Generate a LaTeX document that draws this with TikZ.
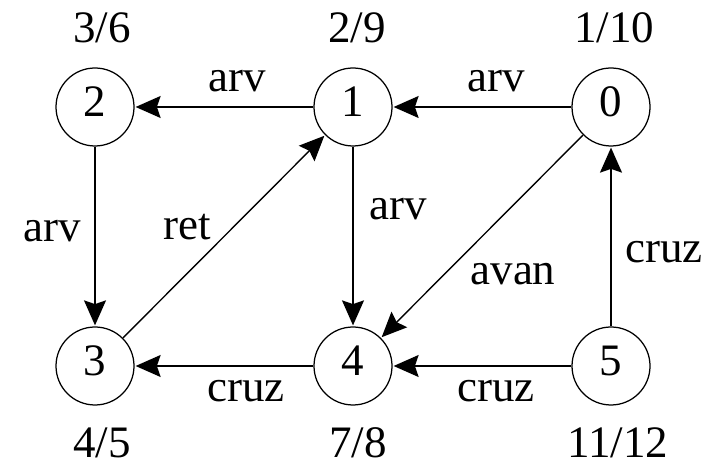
\documentclass[tikz,border=0pt]{standalone}
\usepackage{fontspec}
\setmainfont{Liberation Serif}
\usetikzlibrary{arrows.meta}
\tikzset{
  vert/.style={draw, circle, line width=0.5pt, minimum size=31.2pt, inner sep=0pt,
    text height=0.8em, text depth=0pt},
  edge/.style={line width=0.55pt, -{Stealth[length=10pt, width=8.8pt, inset=1.5pt]}, shorten >=0.4pt},
  lbl/.style={anchor=base, inner sep=0pt}
}
\begin{document}
\begin{tikzpicture}[x=0.4pt, y=-0.4pt, font=\fontsize{18pt}{21pt}\selectfont]
\useasboundingbox (0, 0) rectangle (718, 464);
\node[vert] (v2) at (95, 107) {2};
\node[vert] (v1) at (353, 107) {1};
\node[vert] (v0) at (611, 107) {0};
\node[vert] (v3) at (95, 366) {3};
\node[vert] (v4) at (353, 366) {4};
\node[vert] (v5) at (611, 366) {5};
\draw[edge] (v0) -- (v1);
\draw[edge] (v1) -- (v2);
\draw[edge] (v2) -- (v3);
\draw[edge] (v3) -- (v1);
\draw[edge] (v1) -- (v4);
\draw[edge] (v0) -- (v4);
\draw[edge] (v5) -- (v0);
\draw[edge] (v5) -- (v4);
\draw[edge] (v4) -- (v3);
% temps de descoberta / finalitzacio
\node[lbl] (t2) at (102, 43) {3/6};
\node[lbl] (t1) at (357, 43) {2/9};
\node[lbl] (t0) at (614, 43) {1/10};
\node[lbl] (t3) at (102, 458) {4/5};
\node[lbl] (t4) at (358, 458) {7/8};
\node[lbl] (t5) at (618, 458) {11/12};
% tipus d'aresta
\node[lbl] (e12) at (237, 92) {arv};
\node[lbl] (e01) at (496, 92) {arv};
\node[lbl] (e23) at (52, 242) {arv};
\node[lbl] (e31) at (187, 240) {ret};
\node[lbl] (e14) at (398, 220) {arv};
\node[lbl] (e04) at (513, 285) {avan};
\node[lbl] (e50) at (664, 263) {cruz};
\node[lbl] (e43) at (246, 402) {cruz};
\node[lbl] (e54) at (496, 402) {cruz};
\end{tikzpicture}
\end{document}
